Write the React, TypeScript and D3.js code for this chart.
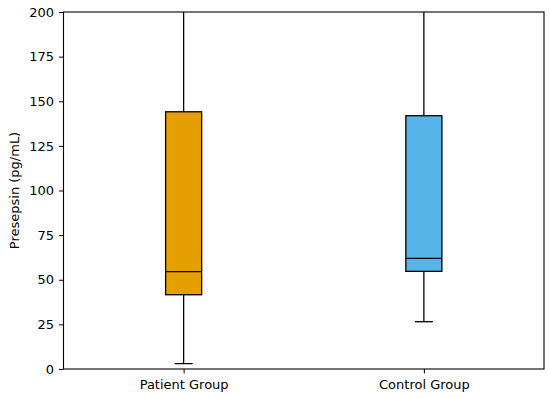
import React, { useEffect, useRef } from 'react';
import * as d3 from 'd3';

const groups = ['Patient Group', 'Control Group'];
const colors = ['#E69F00', '#56B4E9'];
const whiskerLow = [3, 26.5];
const q1 = [41.6, 54.7];
const medians = [54.5, 62];
const q3 = [144.1, 141.9];
const whiskerHigh = [260, 250];
const yTicks = [0, 25, 50, 75, 100, 125, 150, 175, 200];

export default function App() {
  const ref = useRef<SVGSVGElement>(null);

  useEffect(() => {
    const width = 550;
    const height = 398;
    const margin = { top: 12, left: 63.5, bottom: 29, right: 6 };
    const iwidth = width - margin.left - margin.right;
    const iheight = height - margin.top - margin.bottom;

    const svg = d3.select(ref.current);
    svg.selectAll('*').remove();
    svg.attr('width', width).attr('height', height);

    const g = svg.append('g').attr('transform', `translate(${margin.left},${margin.top})`);

    const y = d3.scaleLinear().domain([0, 200]).range([iheight, 0]);
    const x = d3.scaleLinear().domain([0.5, 2.5]).range([0, iwidth]);
    const boxW = x(1.15) - x(1);

    g.append('clipPath').attr('id', 'plotclip')
      .append('rect').attr('width', iwidth).attr('height', iheight);

    const plot = g.append('g').attr('clip-path', 'url(#plotclip)');

    groups.forEach((name, i) => {
      const cx = x(i + 1);
      // whiskers
      plot.append('line').attr('x1', cx).attr('x2', cx)
        .attr('y1', y(q3[i])).attr('y2', y(whiskerHigh[i]))
        .attr('stroke', '#000').attr('stroke-width', 1.3);
      plot.append('line').attr('x1', cx).attr('x2', cx)
        .attr('y1', y(q1[i])).attr('y2', y(whiskerLow[i]))
        .attr('stroke', '#000').attr('stroke-width', 1.3);
      // caps
      [whiskerLow[i], whiskerHigh[i]].forEach(v => {
        plot.append('line').attr('x1', cx - boxW / 4).attr('x2', cx + boxW / 4)
          .attr('y1', y(v)).attr('y2', y(v))
          .attr('stroke', '#000').attr('stroke-width', 1.3);
      });
      // box
      plot.append('rect').attr('x', cx - boxW / 2).attr('width', boxW)
        .attr('y', y(q3[i])).attr('height', y(q1[i]) - y(q3[i]))
        .attr('fill', colors[i]).attr('stroke', '#000').attr('stroke-width', 1.3);
      // median
      plot.append('line').attr('x1', cx - boxW / 2).attr('x2', cx + boxW / 2)
        .attr('y1', y(medians[i])).attr('y2', y(medians[i]))
        .attr('stroke', '#000').attr('stroke-width', 1.3);
    });

    const font = 'DejaVu Sans, sans-serif';

    const yAxis = g.append('g').call(d3.axisLeft(y).tickValues(yTicks).tickSize(4.5).tickPadding(5));
    const xAxis = g.append('g').attr('transform', `translate(0,${iheight})`)
      .call(d3.axisBottom(x).tickValues([1, 2]).tickFormat((d, i) => groups[i]).tickSize(4.5).tickPadding(6.5));

    [yAxis, xAxis].forEach(a => {
      a.select('.domain').remove();
      a.selectAll('text').attr('font-family', font).attr('font-size', 13).attr('fill', '#000');
      a.selectAll('line').attr('stroke', '#000').attr('stroke-width', 1);
    });

    // frame
    g.append('rect').attr('width', iwidth).attr('height', iheight)
      .attr('fill', 'none').attr('stroke', '#000').attr('stroke-width', 1.1);

    svg.append('text')
      .attr('transform', `translate(19,${margin.top + iheight / 2}) rotate(-90)`)
      .attr('text-anchor', 'middle')
      .attr('font-family', font).attr('font-size', 13)
      .text('Presepsin (pg/mL)');
  }, []);

  return (
    <div>
      <svg ref={ref} style={{ position: 'absolute', left: 0, top: 0, display: 'block' }}></svg>
    </div>
  );
}
